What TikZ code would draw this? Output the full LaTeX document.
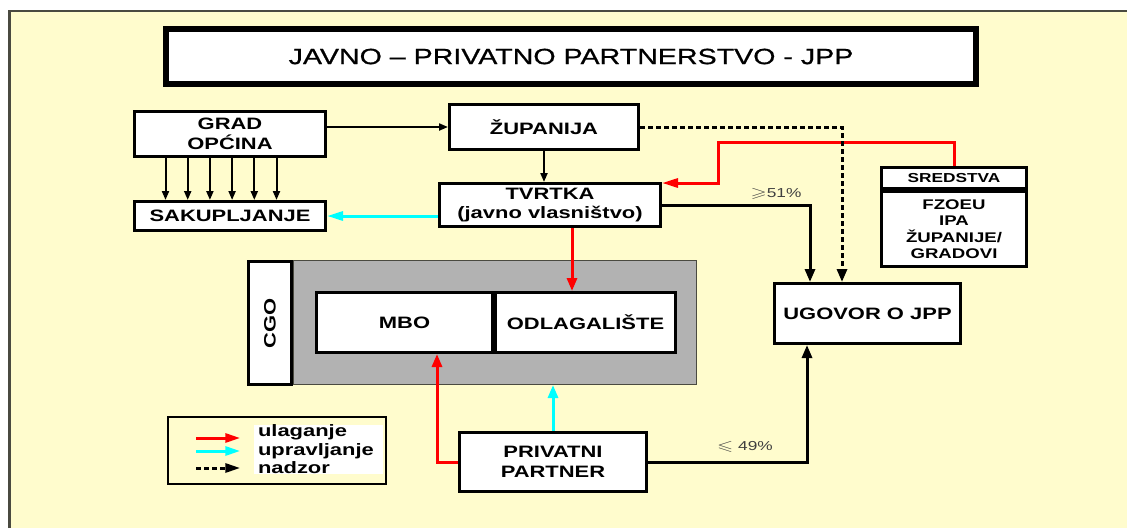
\documentclass[tikz,border=0pt]{standalone}
\usepackage{amssymb}
\usepackage{fontspec}
\setmainfont{Liberation Sans}[FakeStretch=1.33]
\newfontfamily\naslovfont{Liberation Sans}[FakeStretch=1.3,FakeBold=0.8]
\usetikzlibrary{arrows.meta,positioning}

\definecolor{bgyellow}{RGB}{255,252,205}
\definecolor{rimgray}{RGB}{74,74,64}
\definecolor{cgogray}{RGB}{178,178,178}
\definecolor{jppred}{RGB}{255,0,0}
\definecolor{jppcyan}{RGB}{0,255,255}

\newcommand{\lbl}{\fontsize{16.5}{19.5}\selectfont\bfseries}

\begin{document}
\begin{tikzpicture}[x=1pt,y=-1pt,>={Triangle[length=13pt,width=10pt]},
  blok/.style={draw,line width=3pt,fill=white,inner sep=0pt,align=center,font=\lbl},
  veza/.style={->,draw=black,line width=3pt},
  tanka/.style={->,draw=black,line width=2pt,>={Triangle[length=9pt,width=7pt]}},
  ulag/.style={->,draw=jppred,line width=3pt},
  uprav/.style={->,draw=jppcyan,line width=3pt},
  nadz/.style={->,draw=black,line width=3pt,dash pattern=on 5pt off 3pt}]
    \useasboundingbox (0,0) rectangle (1127,528);
    % page and frame
    \fill[white] (0,0) rectangle (1127,528);
    \fill[bgyellow] (8,10) rectangle (1127,528);
    \draw[rimgray,line width=2.5pt] (9.5,528) -- (9.5,11) -- (1127,11);

    \node[blok,line width=6pt,minimum width=810pt,minimum height=55pt,
      font=\fontsize{22}{26}\naslovfont] (naslov) at (571,56.5)
      {JAVNO – PRIVATNO PARTNERSTVO - JPP};

    \node[blok,minimum width=191pt,minimum height=45pt] (grad) at (230,134) {GRAD\\OPĆINA};
    \node[blok,minimum width=191pt,minimum height=29pt,below=42pt of grad] (sak) {SAKUPLJANJE};
    \node[blok,minimum width=189pt,minimum height=45pt] (zup) at (544,127) {ŽUPANIJA};
    \node[blok,minimum width=221pt,minimum height=43pt] (tvr) at (550,205) {TVRTKA\\(javno vlasništvo)};

    \node[blok,minimum width=145pt,minimum height=21pt,
      font=\fontsize{13}{15}\selectfont\bfseries] (sredh) at (954,178) {SREDSTVA};
    \node[blok,minimum width=145pt,minimum height=75pt,below=0pt of sredh,
      font=\fontsize{14}{16.5}\selectfont\bfseries] (sred) {FZOEU\\IPA\\ŽUPANIJE/\\GRADOVI};

    \node[blok,minimum width=186pt,minimum height=60pt] (ugo) at (867.5,313.5) {UGOVOR O JPP};

    % CGO
    \node[draw=rimgray,line width=1pt,fill=cgogray,inner sep=0pt,
      minimum width=403pt,minimum height=124pt] (cgo) at (495,322.5) {};
    \node[blok,minimum width=43pt,minimum height=123pt] (cgotxt) at (270,323) {\rotatebox{90}{CGO}};
    \node[blok,minimum width=176pt,minimum height=60pt] (mbo) at (404.5,322.5) {MBO};
    \node[blok,minimum width=180pt,minimum height=60pt,right=0pt of mbo] (odl) {ODLAGALIŠTE};

    \node[blok,minimum width=187pt,minimum height=59pt] (priv) at (553,462) {PRIVATNI\\PARTNER};

    % legend
    \node[draw,line width=1.5pt,minimum width=218pt,minimum height=67pt] (leg) at (277,450.5) {};
    \node[fill=white,inner sep=0pt,minimum height=47pt,text width=129pt,align=left,
      font=\fontsize{16.5}{18.5}\selectfont\bfseries] (legtxt) at (318.5,449.5)
      {\hspace*{4pt}ulaganje\\\hspace*{4pt}upravljanje\\\hspace*{4pt}nadzor};
    \foreach \s/\dy in {ulag/12.5,uprav/-0.5,nadz/-17.5}
      \draw[\s,>={Triangle[length=15pt,width=9pt]}] ([xshift=29pt,yshift=\dy pt]leg.west) -- ++(44pt,0);

    % connectors
    \draw[tanka] (grad.east |- zup.west) -- (zup.west);
    \draw[tanka] (zup.south) -- (zup.south |- tvr.north);
    \foreach \i in {0,...,5} {
      \coordinate (g\i) at ([xshift=32.5pt+22.2pt*\i]grad.south west);
      \draw[tanka] (g\i) -- (g\i |- sak.north);
    }
    \draw[uprav,>={Triangle[length=16pt,width=9pt]}] (tvr.west |- sak.east) -- (sak.east);

    \coordinate (t1) at ([xshift=22pt]tvr.south);
    \draw[ulag] (t1) -- (t1 |- odl.north);
    \coordinate (s1) at (718,142);
    \draw[ulag,>={Triangle[length=16pt,width=9pt]}] (sredh.north) |- (s1) |- ([yshift=-1pt]tvr.north east);

    \coordinate (u1) at ([xshift=-57.5pt]ugo.north);
    \coordinate (u2) at ([xshift=-25.5pt]ugo.north);
    \coordinate (u3) at ([xshift=-60.5pt]ugo.south);
    \draw[veza] (tvr.east) -| (u1);
    \draw[nadz] (zup.east) -| (u2);

    \coordinate (m1) at ([xshift=32.5pt]mbo.south);
    \draw[ulag] (priv.west) -| (m1);
    \draw[uprav] (priv.north) -- (priv.north |- cgo.south);
    \draw[veza] (priv.east) -| (u3);

    \node[font=\fontsize{13}{15}\selectfont,text=black!75] (vece) at (776,194)
      {\scalebox{1.6}[1.1]{$\geqslant$}51\%};
    \node[font=\fontsize{13}{15}\selectfont,text=black!75] (manje) at (745,447)
      {\scalebox{1.6}[1.1]{$\leqslant$} 49\%};
\end{tikzpicture}
\end{document}
